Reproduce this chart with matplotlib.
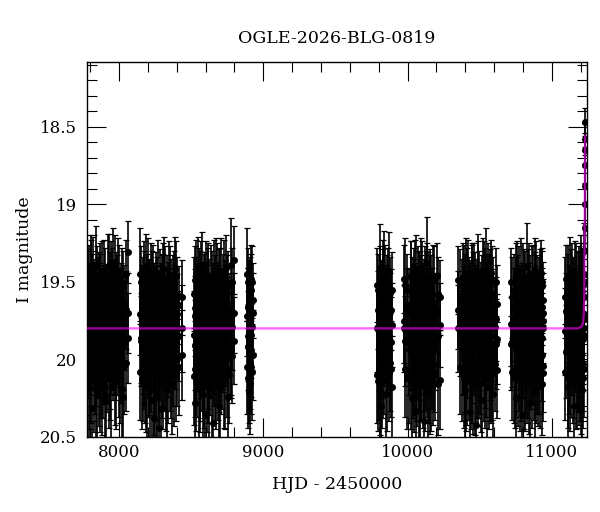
import matplotlib
matplotlib.use("Agg")
import matplotlib.pyplot as plt
from matplotlib.ticker import MultipleLocator, FuncFormatter

title = "OGLE-2026-BLG-0819"
xlabel = "HJD - 2450000"
ylabel = "I magnitude"

# Three exposures per night: (*_m, *_e), (*_m2, *_e2), (*_m3, *_e3) share the epochs *_t.
s1_t = [7781, 7787, 7792, 7798, 7803, 7809, 7815, 7820, 7826, 7831, 7837, 7842, 7848, 7854, 7859,
        7865, 7871, 7876, 7882, 7888, 7893, 7899, 7905, 7911, 7916, 7922, 7928, 7934, 7940, 7946,
        7952, 7958, 7964, 7970, 7976, 7983, 7990, 7997, 8004, 8011, 8018, 8026, 8034, 8045, 8062]
s1_m = [19.62, 19.95, 19.48, 20.12, 19.77, 19.41, 20.31, 19.86, 19.58, 20.04, 19.71, 19.39, 20.22, 19.90, 19.53,
        19.82, 20.15, 19.66, 19.44, 20.08, 19.75, 19.97, 19.51, 20.27, 19.69, 19.83, 19.46, 20.01, 19.60, 20.18,
        19.79, 19.37, 19.93, 20.10, 19.55, 19.88, 19.43, 20.06, 19.73, 19.98, 19.50, 20.24, 19.64, 20.02, 19.31]
s1_e = [0.24, 0.30, 0.22, 0.33, 0.27, 0.21, 0.36, 0.29, 0.23, 0.31, 0.26, 0.25, 0.34, 0.28, 0.22,
        0.27, 0.32, 0.25, 0.20, 0.30, 0.26, 0.29, 0.23, 0.35, 0.24, 0.28, 0.27, 0.31, 0.23, 0.33,
        0.26, 0.22, 0.30, 0.32, 0.24, 0.28, 0.21, 0.31, 0.25, 0.30, 0.22, 0.34, 0.25, 0.31, 0.20]
s1_m2 = [20.05, 19.52, 20.18, 19.63, 19.45, 20.09, 19.56, 19.42, 20.14, 19.61, 20.00, 20.20, 19.49, 19.58, 20.11,
         19.47, 19.55, 20.07, 20.16, 19.64, 19.99, 19.44, 20.23, 19.68, 20.03, 19.40, 20.12, 19.54, 20.08, 19.46,
         19.50, 19.96, 19.60, 19.41, 20.13, 19.57, 19.94, 19.48, 20.10, 19.62, 20.19, 19.53, 20.04, 19.45, 19.70]
s1_e2 = [0.31, 0.23, 0.33, 0.25, 0.22, 0.32, 0.24, 0.21, 0.33, 0.24, 0.30, 0.34, 0.22, 0.24, 0.32,
         0.22, 0.23, 0.31, 0.33, 0.25, 0.30, 0.21, 0.34, 0.26, 0.31, 0.21, 0.32, 0.23, 0.31, 0.22,
         0.22, 0.30, 0.24, 0.21, 0.32, 0.24, 0.29, 0.22, 0.31, 0.24, 0.33, 0.23, 0.31, 0.22, 0.26]
s1_m3 = [19.78, 19.66, 19.88, 19.72, 19.93, 19.69, 19.81, 19.74, 19.90, 19.65, 19.84, 19.76, 19.95, 19.70, 19.86,
         19.63, 19.79, 19.91, 19.73, 19.83, 19.67, 19.89, 19.77, 19.64, 19.94, 19.71, 19.85, 19.80, 19.68, 19.92,
         19.75, 19.87, 19.62, 19.82, 19.96, 19.70, 19.78, 19.89, 19.66, 19.84, 19.73, 19.91, 19.79, 19.68, 19.86]
s1_e3 = [0.27, 0.25, 0.29, 0.26, 0.30, 0.25, 0.28, 0.27, 0.29, 0.25, 0.28, 0.27, 0.30, 0.26, 0.29,
         0.25, 0.28, 0.29, 0.26, 0.28, 0.25, 0.29, 0.27, 0.25, 0.30, 0.26, 0.29, 0.28, 0.25, 0.30,
         0.27, 0.29, 0.25, 0.28, 0.30, 0.26, 0.27, 0.29, 0.25, 0.28, 0.26, 0.29, 0.28, 0.25, 0.29]

s2_t = [8148, 8154, 8159, 8165, 8171, 8176, 8182, 8188, 8193, 8199, 8205, 8211, 8216, 8222, 8228,
        8233, 8239, 8245, 8251, 8256, 8262, 8268, 8274, 8279, 8285, 8291, 8297, 8302, 8308, 8314,
        8320, 8326, 8332, 8338, 8344, 8350, 8357, 8364, 8371, 8378, 8386, 8395, 8405, 8418, 8436]
s2_m = [19.45, 19.88, 19.67, 20.09, 19.52, 19.99, 19.74, 19.40, 20.17, 19.83, 19.59, 20.05, 19.70, 19.47, 20.26,
        19.91, 19.63, 20.38, 19.78, 19.54, 20.21, 19.86, 20.44, 19.68, 19.96, 20.32, 19.57, 20.13, 19.81, 19.42,
        20.02, 19.73, 20.19, 19.61, 19.92, 19.49, 20.07, 19.76, 19.56, 20.11, 19.84, 19.46, 20.00, 19.65, 19.60]
s2_e = [0.30, 0.29, 0.25, 0.31, 0.22, 0.30, 0.26, 0.21, 0.33, 0.28, 0.24, 0.31, 0.26, 0.22, 0.35,
        0.29, 0.25, 0.38, 0.27, 0.23, 0.34, 0.28, 0.40, 0.25, 0.30, 0.36, 0.24, 0.32, 0.27, 0.21,
        0.31, 0.26, 0.33, 0.24, 0.29, 0.22, 0.31, 0.27, 0.23, 0.32, 0.28, 0.22, 0.30, 0.25, 0.24]
s2_m2 = [20.08, 19.50, 20.13, 19.58, 20.02, 19.46, 20.10, 20.15, 19.55, 19.43, 20.06, 19.60, 20.20, 20.04, 19.52,
         19.48, 20.17, 19.62, 20.09, 20.25, 19.57, 19.44, 19.70, 20.12, 19.51, 19.63, 20.07, 19.47, 19.55, 20.01,
         19.49, 20.14, 19.56, 20.10, 19.45, 20.03, 19.59, 20.16, 20.00, 19.53, 19.42, 20.09, 19.58, 20.05, 19.97]
s2_e2 = [0.31, 0.23, 0.32, 0.24, 0.30, 0.22, 0.31, 0.32, 0.23, 0.21, 0.31, 0.24, 0.33, 0.30, 0.22,
         0.22, 0.32, 0.24, 0.31, 0.34, 0.23, 0.21, 0.25, 0.32, 0.22, 0.24, 0.31, 0.22, 0.23, 0.30,
         0.22, 0.32, 0.23, 0.31, 0.21, 0.30, 0.24, 0.32, 0.30, 0.23, 0.21, 0.31, 0.24, 0.31, 0.29]
s2_m3 = [19.71, 19.86, 19.64, 19.92, 19.77, 19.69, 19.88, 19.81, 19.66, 19.95, 19.74, 19.83, 19.62, 19.90, 19.79,
         19.68, 19.85, 19.73, 19.93, 19.65, 19.80, 19.87, 19.70, 19.96, 19.76, 19.63, 19.89, 19.82, 19.67, 19.91,
         19.75, 19.84, 19.72, 19.94, 19.66, 19.78, 19.88, 19.69, 19.83, 19.64, 19.90, 19.77, 19.71, 19.85, 19.80]
s2_e3 = [0.26, 0.29, 0.25, 0.30, 0.27, 0.25, 0.29, 0.28, 0.25, 0.30, 0.27, 0.28, 0.25, 0.29, 0.27,
         0.25, 0.29, 0.26, 0.30, 0.25, 0.28, 0.29, 0.26, 0.30, 0.27, 0.25, 0.29, 0.28, 0.25, 0.29,
         0.27, 0.28, 0.26, 0.30, 0.25, 0.27, 0.29, 0.25, 0.28, 0.25, 0.29, 0.27, 0.26, 0.29, 0.28]

s3_t = [8518, 8524, 8529, 8535, 8541, 8546, 8552, 8558, 8563, 8569, 8575, 8580, 8586, 8592, 8597,
        8603, 8609, 8614, 8620, 8626, 8632, 8637, 8643, 8649, 8655, 8660, 8666, 8672, 8678, 8684,
        8690, 8696, 8702, 8708, 8714, 8720, 8727, 8734, 8741, 8748, 8756, 8764, 8773, 8785, 8800]
s3_m = [19.58, 20.28, 19.72, 19.44, 20.06, 19.85, 19.51, 20.15, 19.66, 19.93, 19.40, 20.22, 19.77, 19.55, 20.35,
        19.89, 19.62, 20.01, 19.47, 20.19, 19.74, 19.96, 19.53, 20.41, 19.68, 19.81, 20.10, 19.43, 19.99, 19.64,
        20.30, 19.79, 19.50, 20.04, 19.70, 19.92, 19.45, 20.13, 19.87, 19.57, 20.24, 19.75, 19.39, 19.98, 19.36]
s3_e = [0.24, 0.34, 0.26, 0.21, 0.31, 0.28, 0.23, 0.32, 0.25, 0.29, 0.22, 0.34, 0.27, 0.23, 0.37,
        0.28, 0.25, 0.31, 0.22, 0.33, 0.26, 0.29, 0.23, 0.39, 0.25, 0.27, 0.31, 0.21, 0.30, 0.25,
        0.36, 0.27, 0.22, 0.31, 0.26, 0.29, 0.22, 0.32, 0.28, 0.24, 0.34, 0.26, 0.30, 0.30, 0.22]
s3_m2 = [20.11, 19.49, 20.06, 20.14, 19.57, 19.42, 20.19, 19.52, 20.09, 19.46, 20.03, 19.61, 20.12, 20.07, 19.54,
         19.45, 20.15, 19.50, 20.10, 19.59, 20.05, 19.48, 20.17, 19.63, 20.00, 19.44, 19.56, 20.13, 19.47, 20.08,
         19.51, 20.04, 20.18, 19.43, 20.02, 19.55, 20.12, 19.60, 19.41, 20.06, 19.53, 20.10, 19.96, 19.50, 19.88]
s3_e2 = [0.31, 0.22, 0.31, 0.32, 0.23, 0.21, 0.33, 0.22, 0.31, 0.22, 0.30, 0.24, 0.32, 0.31, 0.23,
         0.21, 0.32, 0.22, 0.31, 0.24, 0.31, 0.22, 0.33, 0.25, 0.30, 0.21, 0.23, 0.32, 0.22, 0.31,
         0.22, 0.30, 0.33, 0.21, 0.30, 0.23, 0.32, 0.24, 0.21, 0.31, 0.23, 0.31, 0.29, 0.22, 0.28]
s3_m3 = [19.84, 19.67, 19.91, 19.74, 19.63, 19.88, 19.79, 19.95, 19.70, 19.82, 19.65, 19.93, 19.76, 19.86, 19.68,
         19.90, 19.73, 19.81, 19.64, 19.94, 19.78, 19.69, 19.87, 19.75, 19.92, 19.66, 19.83, 19.71, 19.89, 19.62,
         19.80, 19.96, 19.72, 19.85, 19.67, 19.90, 19.77, 19.64, 19.88, 19.74, 19.82, 19.69, 19.93, 19.79, 19.70]
s3_e3 = [0.28, 0.25, 0.29, 0.27, 0.25, 0.29, 0.28, 0.30, 0.26, 0.28, 0.25, 0.30, 0.27, 0.29, 0.25,
         0.29, 0.26, 0.28, 0.25, 0.30, 0.27, 0.25, 0.29, 0.27, 0.30, 0.25, 0.28, 0.26, 0.29, 0.25,
         0.28, 0.30, 0.26, 0.29, 0.25, 0.29, 0.27, 0.25, 0.29, 0.27, 0.28, 0.25, 0.30, 0.28, 0.26]

s4_t = [8888, 8893, 8897, 8901, 8905, 8909, 8914, 8918, 8923, 8929]
s4_m = [19.45, 19.92, 19.66, 20.21, 19.78, 19.58, 20.05, 19.84, 19.50, 19.97]
s4_e = [0.30, 0.28, 0.25, 0.20, 0.27, 0.24, 0.30, 0.28, 0.23, 0.29]
s4_m2 = [20.05, 19.50, 20.12, 19.60, 20.02, 20.15, 19.55, 19.48, 20.08, 19.62]
s4_e2 = [0.30, 0.22, 0.32, 0.24, 0.30, 0.33, 0.23, 0.22, 0.31, 0.24]
s4_m3 = [19.72, 19.85, 19.66, 19.90, 19.76, 19.83, 19.69, 19.94, 19.79, 19.70]
s4_e3 = [0.26, 0.29, 0.25, 0.29, 0.27, 0.28, 0.25, 0.30, 0.28, 0.26]

s5_t = [9790, 9796, 9801, 9806, 9811, 9816, 9821, 9826, 9831, 9836, 9842, 9848, 9854, 9861, 9868, 9876, 9885, 9893]
s5_m = [19.52, 20.14, 19.73, 19.41, 19.96, 20.30, 19.62, 19.85, 20.07, 19.47, 19.79, 20.22, 19.58, 19.91, 19.43, 20.02, 19.68, 19.55]
s5_e = [0.24, 0.32, 0.27, 0.28, 0.29, 0.35, 0.25, 0.28, 0.31, 0.30, 0.27, 0.34, 0.25, 0.29, 0.25, 0.31, 0.26, 0.24]
s5_m2 = [20.10, 19.55, 20.08, 20.16, 19.49, 19.60, 20.12, 19.45, 19.52, 20.05, 19.48, 19.63, 20.14, 19.50, 20.09, 19.57, 20.06, 20.18]
s5_e2 = [0.31, 0.23, 0.31, 0.33, 0.22, 0.24, 0.32, 0.22, 0.23, 0.30, 0.22, 0.24, 0.32, 0.22, 0.31, 0.23, 0.31, 0.33]
s5_m3 = [19.80, 19.68, 19.91, 19.74, 19.86, 19.64, 19.95, 19.77, 19.70, 19.88, 19.82, 19.66, 19.92, 19.75, 19.84, 19.69, 19.89, 19.78]
s5_e3 = [0.28, 0.25, 0.29, 0.27, 0.29, 0.25, 0.30, 0.27, 0.26, 0.29, 0.28, 0.25, 0.30, 0.27, 0.28, 0.25, 0.29, 0.27]

s6_t = [9972, 9985, 9998, 10010, 10020, 10026, 10031, 10036, 10041, 10046, 10051, 10056, 10061, 10066, 10071,
        10076, 10081, 10086, 10091, 10096, 10101, 10106, 10111, 10116, 10121, 10126, 10131, 10136, 10141, 10146,
        10152, 10158, 10164, 10170, 10177, 10184, 10192, 10201, 10210, 10222]
s6_m = [19.80, 19.52, 20.12, 19.68, 19.90, 19.47, 20.25, 19.74, 19.60, 20.05, 19.85, 19.42, 20.33, 19.70, 19.96,
        19.55, 20.18, 19.78, 19.44, 20.09, 19.88, 19.63, 20.40, 19.72, 19.50, 20.01, 19.83, 19.38, 20.21, 19.66,
        19.93, 19.57, 20.14, 19.76, 19.48, 20.03, 19.69, 19.86, 20.16, 19.60]
s6_e = [0.28, 0.30, 0.33, 0.26, 0.30, 0.23, 0.34, 0.27, 0.25, 0.31, 0.29, 0.22, 0.37, 0.26, 0.30,
        0.24, 0.33, 0.28, 0.22, 0.31, 0.29, 0.25, 0.40, 0.26, 0.23, 0.31, 0.28, 0.30, 0.33, 0.25,
        0.29, 0.24, 0.32, 0.27, 0.22, 0.31, 0.25, 0.29, 0.33, 0.24]
s6_m2 = [19.48, 20.06, 19.55, 20.10, 19.46, 20.13, 19.58, 20.07, 20.15, 19.50, 19.44, 20.09, 19.62, 20.11, 19.49,
         20.04, 19.53, 20.17, 20.08, 19.56, 19.45, 20.12, 19.59, 20.03, 20.14, 19.52, 19.47, 20.06, 19.54, 20.10,
         19.51, 20.16, 19.57, 20.02, 20.11, 19.49, 20.08, 19.46, 19.58, 20.13]
s6_e2 = [0.22, 0.31, 0.23, 0.31, 0.22, 0.32, 0.24, 0.31, 0.32, 0.22, 0.21, 0.31, 0.24, 0.32, 0.22,
         0.30, 0.23, 0.33, 0.31, 0.23, 0.21, 0.32, 0.24, 0.30, 0.32, 0.22, 0.22, 0.31, 0.23, 0.31,
         0.22, 0.32, 0.24, 0.30, 0.31, 0.22, 0.31, 0.21, 0.24, 0.32]
s6_m3 = [19.75, 19.88, 19.66, 19.93, 19.80, 19.70, 19.86, 19.63, 19.91, 19.77, 19.68, 19.95, 19.82, 19.73, 19.89,
         19.65, 19.84, 19.78, 19.92, 19.69, 19.81, 19.64, 19.87, 19.74, 19.96, 19.71, 19.85, 19.67, 19.90, 19.79,
         19.72, 19.94, 19.83, 19.66, 19.88, 19.76, 19.91, 19.70, 19.85, 19.78]
s6_e3 = [0.27, 0.29, 0.25, 0.30, 0.28, 0.26, 0.29, 0.25, 0.29, 0.27, 0.25, 0.30, 0.28, 0.26, 0.29,
         0.25, 0.28, 0.27, 0.30, 0.25, 0.28, 0.25, 0.29, 0.27, 0.30, 0.26, 0.29, 0.25, 0.29, 0.28,
         0.26, 0.30, 0.28, 0.25, 0.29, 0.27, 0.29, 0.26, 0.28, 0.27]

s7_t = [10352, 10365, 10376, 10383, 10389, 10395, 10401, 10407, 10413, 10419, 10425, 10431, 10437, 10443, 10449,
        10455, 10461, 10467, 10473, 10479, 10485, 10491, 10497, 10503, 10509, 10515, 10521, 10527, 10533, 10539,
        10545, 10551, 10557, 10563, 10569, 10575, 10581, 10588, 10595, 10603, 10611, 10619]
s7_m = [19.80, 20.05, 19.62, 19.94, 19.50, 20.20, 19.75, 19.45, 20.11, 19.86, 19.58, 20.34, 19.70, 19.98, 19.48,
        20.15, 19.82, 19.55, 20.42, 19.67, 19.91, 19.43, 20.07, 19.77, 19.60, 20.26, 19.88, 19.46, 20.00, 19.72,
        19.53, 20.18, 19.84, 19.56, 20.09, 19.69, 19.95, 19.49, 20.22, 19.74, 19.90, 19.64]
s7_e = [0.28, 0.30, 0.27, 0.29, 0.24, 0.33, 0.27, 0.23, 0.31, 0.28, 0.24, 0.36, 0.26, 0.30, 0.23,
        0.33, 0.28, 0.24, 0.40, 0.26, 0.29, 0.24, 0.31, 0.27, 0.23, 0.34, 0.28, 0.22, 0.31, 0.26,
        0.38, 0.33, 0.28, 0.23, 0.31, 0.26, 0.29, 0.22, 0.33, 0.27, 0.29, 0.25]
s7_m2 = [19.49, 19.52, 20.09, 19.47, 20.12, 19.56, 20.04, 20.14, 19.51, 19.44, 20.08, 19.60, 20.13, 19.48, 20.10,
         19.54, 19.46, 20.16, 19.59, 20.07, 19.45, 20.11, 19.53, 20.05, 20.15, 19.57, 19.43, 20.09, 19.50, 20.12,
         20.06, 19.55, 19.47, 20.13, 19.52, 20.10, 19.44, 20.08, 19.58, 20.03, 19.50, 20.07]
s7_e2 = [0.22, 0.23, 0.31, 0.22, 0.32, 0.24, 0.30, 0.32, 0.23, 0.21, 0.31, 0.24, 0.32, 0.22, 0.31,
         0.23, 0.21, 0.33, 0.24, 0.31, 0.21, 0.32, 0.23, 0.30, 0.32, 0.24, 0.21, 0.31, 0.22, 0.32,
         0.31, 0.23, 0.22, 0.32, 0.23, 0.31, 0.21, 0.31, 0.24, 0.30, 0.22, 0.31]
s7_m3 = [19.68, 19.83, 19.74, 19.92, 19.65, 19.87, 19.79, 19.70, 19.95, 19.76, 19.85, 19.63, 19.90, 19.72, 19.81,
         19.67, 19.93, 19.78, 19.86, 19.64, 19.89, 19.75, 19.82, 19.69, 19.94, 19.71, 19.84, 19.66, 19.91, 19.77,
         19.88, 19.62, 19.80, 19.73, 19.96, 19.70, 19.85, 19.67, 19.90, 19.79, 19.74, 19.87]
s7_e3 = [0.25, 0.28, 0.27, 0.30, 0.25, 0.29, 0.28, 0.26, 0.30, 0.27, 0.29, 0.25, 0.29, 0.26, 0.28,
         0.25, 0.30, 0.27, 0.29, 0.25, 0.29, 0.27, 0.28, 0.25, 0.30, 0.26, 0.28, 0.25, 0.29, 0.27,
         0.29, 0.25, 0.28, 0.26, 0.30, 0.26, 0.29, 0.25, 0.29, 0.28, 0.27, 0.29]

s8_t = [10713, 10726, 10736, 10742, 10748, 10754, 10760, 10766, 10772, 10778, 10784, 10790, 10796, 10802, 10808,
        10814, 10820, 10826, 10832, 10838, 10844, 10850, 10856, 10862, 10868, 10874, 10880, 10886, 10892, 10898,
        10904, 10910, 10916, 10922, 10928, 10934, 10938, 10941]
s8_m = [19.90, 19.60, 20.10, 19.74, 19.48, 20.25, 19.83, 19.57, 20.02, 19.68, 19.44, 20.36, 19.79, 19.95, 19.52,
        20.14, 19.72, 19.40, 20.07, 19.87, 19.63, 20.28, 19.76, 19.50, 19.99, 19.66, 20.19, 19.85, 19.46, 20.04,
        19.71, 19.58, 20.12, 19.81, 19.53, 19.97, 19.70, 19.62]
s8_e = [0.30, 0.26, 0.31, 0.27, 0.23, 0.34, 0.28, 0.24, 0.31, 0.26, 0.22, 0.37, 0.27, 0.29, 0.23,
        0.32, 0.26, 0.28, 0.31, 0.28, 0.25, 0.35, 0.27, 0.23, 0.30, 0.25, 0.33, 0.28, 0.22, 0.31,
        0.26, 0.24, 0.32, 0.27, 0.23, 0.30, 0.26, 0.25]
s8_m2 = [19.50, 20.08, 19.55, 20.12, 20.06, 19.58, 19.45, 20.11, 19.49, 20.14, 20.09, 19.62, 20.04, 19.47, 20.13,
         19.53, 20.07, 20.10, 19.51, 19.46, 20.15, 19.56, 20.02, 20.12, 19.48, 20.08, 19.54, 19.43, 20.10, 19.57,
         20.11, 20.05, 19.52, 19.44, 20.16, 19.50, 20.04, 20.09]
s8_e2 = [0.22, 0.31, 0.23, 0.32, 0.31, 0.24, 0.21, 0.32, 0.22, 0.32, 0.31, 0.24, 0.30, 0.22, 0.32,
         0.23, 0.31, 0.31, 0.22, 0.21, 0.33, 0.23, 0.30, 0.32, 0.22, 0.31, 0.23, 0.21, 0.31, 0.24,
         0.32, 0.30, 0.23, 0.21, 0.33, 0.22, 0.30, 0.31]
s8_m3 = [19.77, 19.89, 19.66, 19.84, 19.72, 19.93, 19.69, 19.81, 19.90, 19.64, 19.86, 19.75, 19.95, 19.70, 19.83,
         19.67, 19.91, 19.78, 19.63, 19.88, 19.74, 19.85, 19.68, 19.94, 19.79, 19.71, 19.87, 19.65, 19.92, 19.76,
         19.82, 19.69, 19.90, 19.73, 19.86, 19.66, 19.80, 19.75]
s8_e3 = [0.27, 0.29, 0.25, 0.28, 0.26, 0.30, 0.25, 0.28, 0.29, 0.25, 0.29, 0.27, 0.30, 0.26, 0.28,
         0.25, 0.29, 0.27, 0.25, 0.29, 0.27, 0.28, 0.25, 0.30, 0.28, 0.26, 0.29, 0.25, 0.30, 0.27,
         0.28, 0.25, 0.29, 0.26, 0.29, 0.25, 0.28, 0.27]

s9_t = [11088, 11100, 11108, 11114, 11120, 11126, 11132, 11138, 11144, 11150, 11156, 11162, 11168, 11174, 11180,
        11186, 11191, 11196, 11201, 11205, 11209, 11213, 11216, 11219, 11222]
s9_m = [19.60, 19.95, 19.50, 20.18, 19.72, 19.44, 20.06, 19.84, 19.58, 20.30, 19.68, 19.90, 19.47, 20.12, 19.77,
        19.55, 20.02, 19.64, 19.86, 19.42, 20.20, 19.70, 19.52, 19.80, 19.60]
s9_e = [0.26, 0.30, 0.24, 0.33, 0.27, 0.23, 0.31, 0.28, 0.24, 0.36, 0.26, 0.29, 0.22, 0.32, 0.27,
        0.24, 0.31, 0.25, 0.28, 0.22, 0.34, 0.26, 0.24, 0.27, 0.25]
s9_m2 = [20.08, 19.48, 20.12, 19.55, 20.05, 20.14, 19.51, 19.46, 20.10, 19.58, 20.07, 19.45, 20.13, 19.53, 20.04,
         20.11, 19.49, 20.09, 19.47, 20.15, 19.56, 20.03, 20.12, 19.50, 20.06]
s9_e2 = [0.31, 0.22, 0.32, 0.23, 0.30, 0.32, 0.22, 0.21, 0.31, 0.24, 0.31, 0.21, 0.32, 0.23, 0.30,
         0.31, 0.22, 0.31, 0.22, 0.33, 0.23, 0.30, 0.32, 0.22, 0.31]
s9_m3 = [19.82, 19.69, 19.90, 19.75, 19.64, 19.88, 19.78, 19.93, 19.70, 19.85, 19.66, 19.91, 19.76, 19.83, 19.68,
         19.94, 19.73, 19.86, 19.65, 19.89, 19.79, 19.71, 19.87, 19.74, 19.84]
s9_e3 = [0.28, 0.25, 0.29, 0.27, 0.25, 0.29, 0.27, 0.30, 0.26, 0.29, 0.25, 0.30, 0.27, 0.28, 0.25,
         0.30, 0.26, 0.29, 0.25, 0.29, 0.28, 0.26, 0.29, 0.27, 0.28]

rise_t = [11224, 11225, 11226, 11227, 11228, 11229, 11230, 11231, 11232]
rise_m = [19.45, 19.30, 19.15, 19.00, 18.88, 18.75, 18.65, 18.58, 18.47]
rise_e = [0.20, 0.18, 0.16, 0.14, 0.13, 0.12, 0.11, 0.10, 0.09]

model_t = [7778, 11175, 11195, 11208, 11216, 11221, 11224, 11226, 11228, 11230]
model_m = [19.80, 19.80, 19.795, 19.785, 19.76, 19.71, 19.60, 19.35, 18.95, 18.56]

seasons = [
    (s1_t, s1_m, s1_e, s1_m2, s1_e2, s1_m3, s1_e3),
    (s2_t, s2_m, s2_e, s2_m2, s2_e2, s2_m3, s2_e3),
    (s3_t, s3_m, s3_e, s3_m2, s3_e2, s3_m3, s3_e3),
    (s4_t, s4_m, s4_e, s4_m2, s4_e2, s4_m3, s4_e3),
    (s5_t, s5_m, s5_e, s5_m2, s5_e2, s5_m3, s5_e3),
    (s6_t, s6_m, s6_e, s6_m2, s6_e2, s6_m3, s6_e3),
    (s7_t, s7_m, s7_e, s7_m2, s7_e2, s7_m3, s7_e3),
    (s8_t, s8_m, s8_e, s8_m2, s8_e2, s8_m3, s8_e3),
    (s9_t, s9_m, s9_e, s9_m2, s9_e2, s9_m3, s9_e3),
]
hjd, mag, err = [], [], []
for t, m1, e1, m2, e2, m3, e3 in seasons:
    for mm, ee in ((m1, e1), (m2, e2), (m3, e3)):
        hjd += t
        mag += mm
        err += ee
hjd += rise_t
mag += rise_m
err += rise_e

plt.rcParams['font.family'] = ['DejaVu Serif']

fig = plt.figure(figsize=(6.0, 5.12), dpi=100)
ax = fig.add_axes([0.145, 0.1465, 0.8333, 0.7325])

ax.errorbar(hjd, mag, yerr=err, fmt='o', color='black', ms=4.0,
            ecolor='black', elinewidth=1.2, capsize=2.4, capthick=0.9, zorder=2)
ax.plot(model_t, model_m, color='#ff00ff', lw=1.7, alpha=0.6, zorder=3)

ax.set_xlim(7778, 11243)
ax.set_ylim(20.5, 18.083)

ax.xaxis.set_major_locator(MultipleLocator(1000))
ax.xaxis.set_minor_locator(MultipleLocator(200))
ax.yaxis.set_major_locator(MultipleLocator(0.5))
ax.yaxis.set_minor_locator(MultipleLocator(0.1))
ax.yaxis.set_major_formatter(FuncFormatter(lambda v, p: f"{v:g}"))

ax.tick_params(which='both', direction='in', top=True, right=True, width=0.8, labelsize=12)
ax.tick_params(which='major', length=13.7)
ax.tick_params(which='minor', length=7.2)
ax.tick_params(axis='x', which='major', pad=5)
ax.tick_params(axis='y', which='major', pad=7)
for sp in ax.spines.values():
    sp.set_linewidth(1.0)

ax.set_title(title, fontsize=12.5, pad=14)
ax.set_xlabel(xlabel, fontsize=12.5, labelpad=11)
ax.set_ylabel(ylabel, fontsize=12.5, labelpad=5)

fig.savefig("out.png", dpi=100)
